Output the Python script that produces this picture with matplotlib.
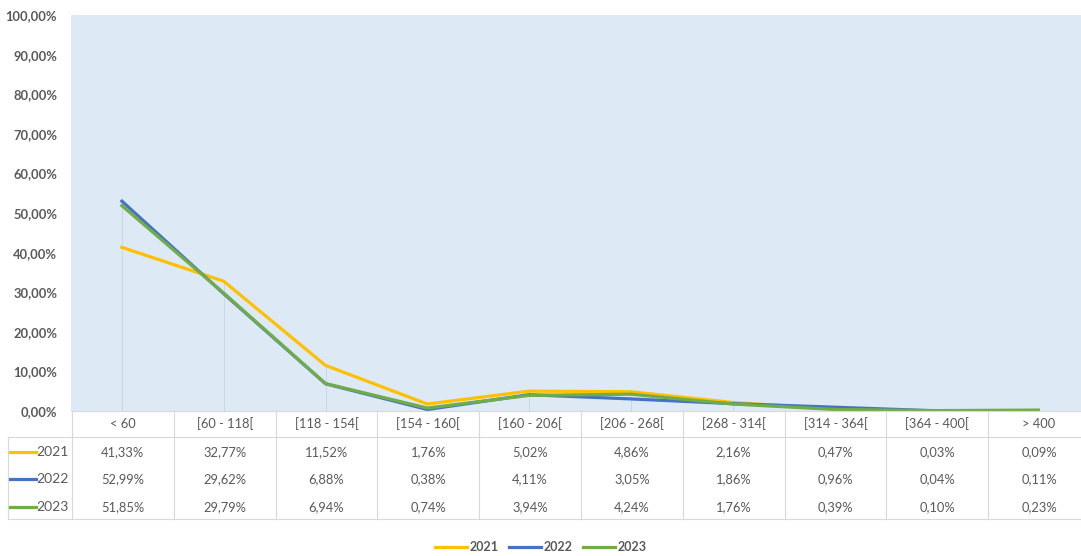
import numpy as np
from matplotlib import pyplot as plt
from matplotlib.lines import Line2D

plt.rcParams['font.family'] = ['Lato', 'DejaVu Sans']

categories = ['< 60', '[60 - 118[', '[118 - 154[', '[154 - 160[', '[160 - 206[',
              '[206 - 268[', '[268 - 314[', '[314 - 364[', '[364 - 400[', '> 400']
years = ['2021', '2022', '2023']
v2021 = [41.33, 32.77, 11.52, 1.76, 5.02, 4.86, 2.16, 0.47, 0.03, 0.09]
v2022 = [52.99, 29.62, 6.88, 0.38, 4.11, 3.05, 1.86, 0.96, 0.04, 0.11]
v2023 = [51.85, 29.79, 6.94, 0.74, 3.94, 4.24, 1.76, 0.39, 0.10, 0.23]
colors = ['#FFC000', '#4472C4', '#70AD47']
series = [v2021, v2022, v2023]

W, H = 1081, 556
txt = '#595959'

fig = plt.figure(figsize=(W / 100, H / 100), dpi=100)

# main plot area (pixel layout)
left, right, top, bottom = 71, 1081, 15, 411
step = 101.8
ax = fig.add_axes([left / W, 1 - bottom / H, (right - left) / W, (bottom - top) / H])
ax.set_facecolor('#DDE9F5')
x = np.arange(len(categories))
x0 = -0.5
x1 = x0 + (right - left) / step
ax.set_xlim(x0, x1)
ax.set_ylim(0, 100)

# drop lines
tops = np.max(np.array(series), axis=0)
ax.vlines(x, 0, tops, color='#C9D3DE', lw=0.6, zorder=1)

for vals, c in zip(series, colors):
    ax.plot(x, vals, color=c, lw=2.3, solid_joinstyle='round', zorder=3)

ax.set_xticks([])
yt = np.arange(0, 101, 10)
ax.set_yticks(yt)
ax.set_yticklabels(['{:.2f}%'.format(v).replace('.', ',') for v in yt],
                   fontsize=9.3, color=txt, fontweight='bold')
ax.tick_params(axis='y', length=0, pad=10)
for s in ax.spines.values():
    s.set_visible(False)

# data table drawn in pixel coordinates
tax = fig.add_axes([0, 0, 1, 1], facecolor='none')
tax.set_xlim(0, W)
tax.set_ylim(H, 0)
tax.axis('off')

line_c = '#D9D9D9'
tbl_top, hdr_bot, tbl_bot = 411, 437, 519
tax.plot([left, W], [tbl_top, tbl_top], color=line_c, lw=0.8)
tax.plot([8, W], [hdr_bot, hdr_bot], color=line_c, lw=0.8)
tax.plot([8, W], [tbl_bot, tbl_bot], color=line_c, lw=0.8)
tax.plot([8, 8], [hdr_bot, tbl_bot], color=line_c, lw=0.8)
for k in range(len(categories)):
    bx = left + 1 + k * step
    tax.plot([bx, bx], [tbl_top, tbl_bot], color=line_c, lw=0.8)

row_y = [452, 479, 507]
for i, cat in enumerate(categories):
    cx = left + 1 + (i + 0.5) * step
    tax.text(cx, 424, cat, ha='center', va='center', fontsize=9.3, color=txt)
    for r, vals in enumerate(series):
        tax.text(cx, row_y[r], '{:.2f}%'.format(vals[i]).replace('.', ','),
                 ha='center', va='center', fontsize=9.3, color=txt)

for r, (yr, c) in enumerate(zip(years, colors)):
    tax.plot([10, 36], [row_y[r], row_y[r]], color=c, lw=2.3)
    tax.text(69, row_y[r], yr, ha='right', va='center', fontsize=10, color=txt)

# legend
handles = [Line2D([], [], color=c, lw=2.3) for c in colors]
leg = fig.legend(handles, years, loc='center', bbox_to_anchor=(0.5, 1 - 547 / H),
                 ncol=3, frameon=False, handlelength=2.6, handletextpad=0.2,
                 columnspacing=0.8, prop={'size': 9, 'weight': 'bold'})
for t in leg.get_texts():
    t.set_color(txt)

fig.savefig('out.png', dpi=100)
